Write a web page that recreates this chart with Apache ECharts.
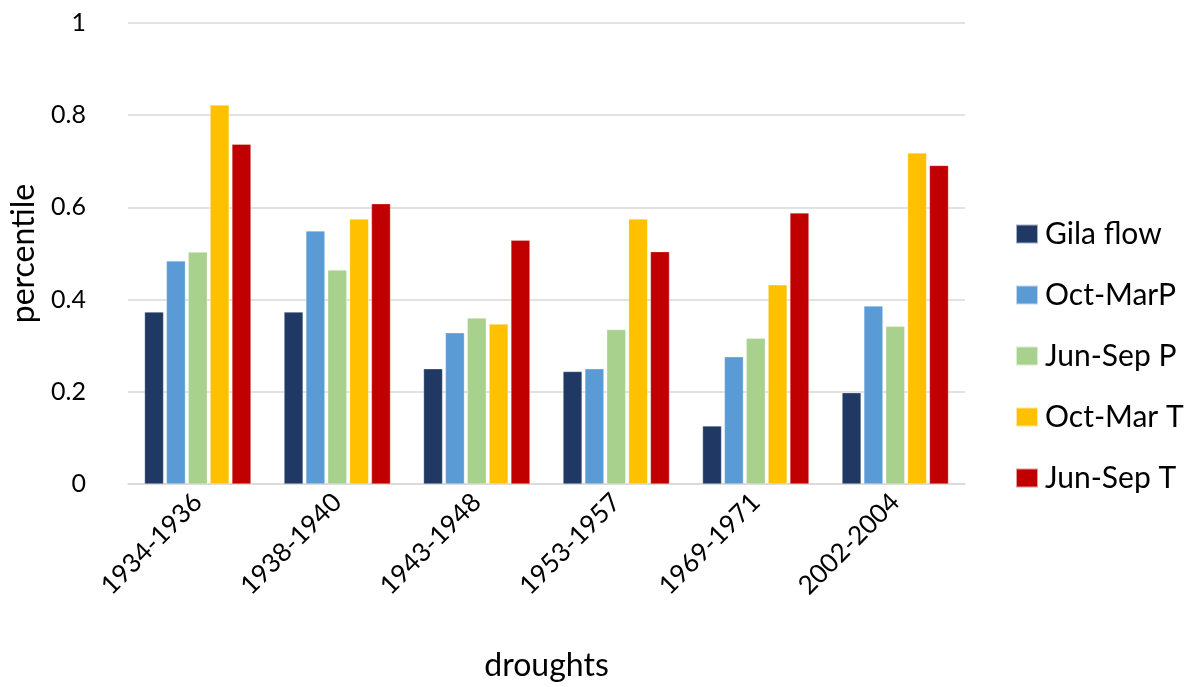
<!DOCTYPE html>
<html><head><meta charset="utf-8">
<script src="https://cdn.jsdelivr.net/npm/echarts@6/dist/echarts.min.js"></script>
<style>html,body{margin:0;padding:0;background:#fff}#c{width:1193px;height:687px}</style>
</head><body><div id="c"></div>
<script>
const categories = ['1934-1936','1938-1940','1943-1948','1953-1957','1969-1971','2002-2004'];
const gilaFlow   = [0.373, 0.373, 0.250, 0.244, 0.126, 0.198];
const octMarP    = [0.484, 0.549, 0.328, 0.250, 0.276, 0.386];
const junSepP    = [0.503, 0.464, 0.360, 0.335, 0.316, 0.342];
const octMarT    = [0.822, 0.575, 0.347, 0.575, 0.432, 0.718];
const junSepT    = [0.737, 0.608, 0.529, 0.504, 0.588, 0.691];
const seriesNames = ['Gila flow','Oct-MarP','Jun-Sep P','Oct-Mar T','Jun-Sep T'];
const colors = ['#203864','#5B9BD5','#A9D18E','#FFC000','#C00000'];
const yTicks = [0, 0.2, 0.4, 0.6, 0.8, 1];

const font = 'Lato, "Open Sans", sans-serif';
const chart = echarts.init(document.getElementById('c'));
const data = [gilaFlow, octMarP, junSepP, octMarT, junSepT];
chart.setOption({
  animation: false,
  textStyle: {fontFamily: font},
  grid: {left: 125, right: 228, top: 23, bottom: 202},
  legend: {
    orient: 'vertical', left: 1010, top: 214,
    itemWidth: 22, itemHeight: 19, itemGap: 31,
    icon: 'rect',
    textStyle: {fontSize: 30, lineHeight: 30, color: '#000', fontFamily: font, padding: [0,0,0,2]},
    data: seriesNames
  },
  xAxis: {
    type: 'category', data: categories,
    name: 'droughts', nameLocation: 'middle', nameGap: 166,
    nameTextStyle: {fontSize: 32, color: '#000', fontFamily: font},
    axisLine: {show: true, lineStyle: {color: '#d9d9d9', width: 1.5}},
    axisTick: {show: false},
    axisLabel: {rotate: 45, fontSize: 26, color: '#000', margin: 14, fontFamily: font, interval: 0}
  },
  yAxis: {
    type: 'value', min: 0, max: 1, interval: 0.2,
    name: 'percentile', nameLocation: 'middle', nameGap: 88,
    nameTextStyle: {fontSize: 32, color: '#000', fontFamily: font},
    axisLine: {show: false}, axisTick: {show: false},
    splitLine: {lineStyle: {color: '#d9d9d9', width: 1.5}},
    axisLabel: {fontSize: 25, color: '#000', margin: 42, fontFamily: font,
      formatter: v => String(+v.toFixed(1))}
  },
  series: seriesNames.map((n, i) => ({
    name: n, type: 'bar', data: data[i],
    barWidth: 19, barGap: '15%',
    itemStyle: {color: colors[i], borderColor: 'rgba(255,255,255,0.6)', borderWidth: 0.5}
  }))
});
</script></body></html>
